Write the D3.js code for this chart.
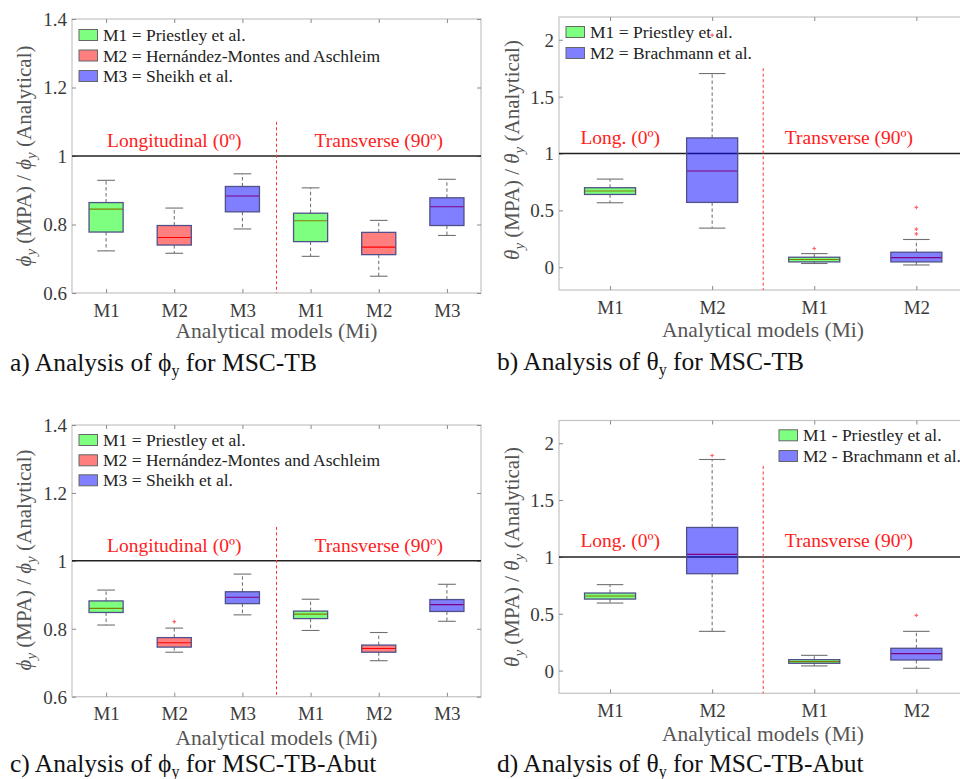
<!DOCTYPE html>
<html><head><meta charset="utf-8">
<script src="https://cdn.jsdelivr.net/npm/d3@7"></script>
</head><body style="margin:0">
<svg id="chart" width="960" height="779"></svg>
<script>
// ---------------- DATA ----------------
const catsPhi = ["M1","M2","M3","M1","M2","M3"];
const catsTheta = ["M1","M2","M1","M2"];
const ticksPhi = [0.6,0.8,1,1.2,1.4];
const ticksTheta = [0,0.5,1,1.5,2];
const modelPhi = [0,1,2,0,1,2];     // colour index per box
const modelTheta = [0,2,0,2];

// each box: [lower whisker, Q1, median, Q3, upper whisker]
const statsA = [
  [0.723,0.778,0.845,0.864,0.929],
  [0.716,0.740,0.762,0.797,0.848],
  [0.787,0.837,0.883,0.911,0.948],
  [0.707,0.750,0.811,0.833,0.907],
  [0.649,0.712,0.734,0.777,0.812],
  [0.768,0.797,0.852,0.878,0.932]
];
const outliersA = [[],[],[],[],[],[]];

const statsB = [
  [0.567,0.640,0.670,0.699,0.775],
  [0.344,0.570,0.846,1.137,1.703],
  [0.033,0.047,0.068,0.088,0.120],
  [0.020,0.047,0.085,0.132,0.244]
];
const outliersB = [[],[2.04],[0.165],[0.293,0.335,0.526]];

const statsC = [
  [0.811,0.848,0.860,0.882,0.914],
  [0.731,0.746,0.759,0.774,0.802],
  [0.841,0.874,0.893,0.909,0.961],
  [0.795,0.830,0.843,0.852,0.887],
  [0.706,0.731,0.742,0.752,0.789],
  [0.822,0.851,0.871,0.886,0.931]
];
const outliersC = [[],[0.821],[],[],[],[]];

const statsD = [
  [0.594,0.629,0.656,0.682,0.756],
  [0.345,0.852,1.022,1.259,1.857],
  [0.041,0.064,0.079,0.096,0.134],
  [0.020,0.093,0.149,0.196,0.345]
];
const outliersD = [[],[1.892],[],[0.486]];

const legendPhi = ["M1 = Priestley et al.","M2 = Hernández-Montes and Aschleim","M3 = Sheikh et al."];
const legendThetaB = ["M1 = Priestley et al.","M2 = Brachmann et al."];
const legendThetaD = ["M1 - Priestley et al.","M2 - Brachmann et al."];
const legendModelsPhi = [0,1,2];
const legendModelsTheta = [0,2];

const regionLongPhi = "Longitudinal (0º)";
const regionLongTheta = "Long. (0º)";
const regionTrans = "Transverse (90º)";
const xTitle = "Analytical models (Mi)";
const captionA = ["a) Analysis of ","ϕ","y"," for MSC-TB"];
const captionB = ["b) Analysis of ","θ","y"," for MSC-TB"];
const captionC = ["c) Analysis of ","ϕ","y"," for MSC-TB-Abut"];
const captionD = ["d) Analysis of ","θ","y"," for MSC-TB-Abut"];

// ---------------- STYLE / LAYOUT ----------------
const FAM = "'Times New Roman'";
const baseColors = ["#00ff00","#ff0000","#0000ff"];
const svg = d3.select("#chart");

const panels = [
  {x0:72, x1:481, y0:19, y1:293, domain:[0.6,1.4], ticks:ticksPhi, cats:catsPhi, models:modelPhi,
   stats:statsA, out:outliersA, div:3.5, divTop:1.1,
   regions:[{x:2,t:regionLongPhi},{x:5,t:regionTrans}], regY:147,
   legend:legendPhi, legModels:legendModelsPhi, legX:79, legY:[35,55.5,76],
   sym:"ϕ", ylx:31, yly:156, tickBase:317, titleBase:338, caption:captionA, capX:10, capBase:371},
  {x0:559, x1:967.4, y0:17, y1:290, domain:[-0.2,2.2], ticks:ticksTheta, cats:catsTheta, models:modelTheta,
   stats:statsB, out:outliersB, div:2.5, divTop:1.75,
   regions:[{x:1.1,t:regionLongTheta},{x:3.34,t:regionTrans}], regY:144,
   legend:legendThetaB, legModels:legendModelsTheta, legX:566, legY:[32,53],
   sym:"θ", ylx:519, yly:150, tickBase:313.5, titleBase:337, caption:captionB, capX:497, capBase:370},
  {x0:72, x1:481, y0:425, y1:696.7, domain:[0.6,1.4], ticks:ticksPhi, cats:catsPhi, models:modelPhi,
   stats:statsC, out:outliersC, div:3.5, divTop:1.1,
   regions:[{x:2,t:regionLongPhi},{x:5,t:regionTrans}], regY:552,
   legend:legendPhi, legModels:legendModelsPhi, legX:79, legY:[440,460.3,480.3],
   sym:"ϕ", ylx:31, yly:560, tickBase:720.5, titleBase:745, caption:captionC, capX:10, capBase:772},
  {x0:559, x1:967.4, y0:420.5, y1:693.3, domain:[-0.2,2.2], ticks:ticksTheta, cats:catsTheta, models:modelTheta,
   stats:statsD, out:outliersD, div:2.5, divTop:1.8,
   regions:[{x:1.1,t:regionLongTheta},{x:3.34,t:regionTrans}], regY:547,
   legend:legendThetaD, legModels:legendModelsTheta, legX:779, legY:[435.3,456],
   sym:"θ", ylx:519, yly:557, tickBase:717.5, titleBase:741, caption:captionD, capX:497, capBase:772}
];

function txt(sel) { return sel.append("text").style("font-family", FAM); }

panels.forEach(p => {
  const g = svg.append("g");
  const n = p.cats.length;
  const x = d3.scaleLinear().domain([0.5, n + 0.5]).range([p.x0, p.x1]);
  const y = d3.scaleLinear().domain(p.domain).range([p.y1, p.y0]);
  const step = x(2) - x(1);
  const boxW = step * 0.5, capW = step * 0.26;

  g.append("rect").attr("x", p.x0).attr("y", p.y0)
    .attr("width", p.x1 - p.x0).attr("height", p.y1 - p.y0)
    .attr("fill", "none").attr("stroke", "#c4c4c4").attr("stroke-width", 1.2);

  const axL = g.append("g").attr("transform", `translate(${p.x0},0)`)
    .call(d3.axisLeft(y).tickValues(p.ticks).tickSize(-4).tickSizeOuter(0).tickPadding(5)
      .tickFormat(d => d3.format("~g")(d)));
  const axR = g.append("g").attr("transform", `translate(${p.x1},0)`)
    .call(d3.axisRight(y).tickValues(p.ticks).tickSize(-4).tickSizeOuter(0).tickFormat(""));
  const axB = g.append("g").attr("transform", `translate(0,${p.y1})`)
    .call(d3.axisBottom(x).tickValues(d3.range(1, n + 1)).tickSize(-4).tickSizeOuter(0)
      .tickFormat(i => p.cats[i - 1]));
  const axT = g.append("g").attr("transform", `translate(0,${p.y0})`)
    .call(d3.axisTop(x).tickValues(d3.range(1, n + 1)).tickSize(-4).tickSizeOuter(0).tickFormat(""));
  [axL, axR, axB, axT].forEach(a => {
    a.attr("font-family", null).attr("font-size", null);
    a.select(".domain").remove();
    a.selectAll(".tick line").attr("stroke", "#8a8a8a");
  });
  axL.selectAll(".tick text").style("font-family", FAM).attr("font-size", 19).attr("fill", "#3a3a3a").attr("dy", "0.34em");
  axB.selectAll(".tick text").style("font-family", FAM).attr("font-size", 19).attr("fill", "#3a3a3a")
    .attr("y", p.tickBase - p.y1).attr("dy", 0);

  g.append("line").attr("x1", p.x0).attr("x2", p.x1).attr("y1", y(1)).attr("y2", y(1))
    .attr("stroke", "#222").attr("stroke-width", 1.5);

  g.append("line").attr("x1", x(p.div)).attr("x2", x(p.div)).attr("y1", y(p.divTop)).attr("y2", p.y1)
    .attr("stroke", "#ff3333").attr("stroke-width", 1).attr("stroke-dasharray", "3,2.5");

  p.stats.forEach((s, i) => {
    const cx = x(i + 1);
    const [lo, q1, med, q3, hi] = s;
    g.append("line").attr("x1", cx).attr("x2", cx).attr("y1", y(q3)).attr("y2", y(hi))
      .attr("stroke", "#6a6a6a").attr("stroke-width", 1).attr("stroke-dasharray", "3.5,2.5");
    g.append("line").attr("x1", cx).attr("x2", cx).attr("y1", y(q1)).attr("y2", y(lo))
      .attr("stroke", "#6a6a6a").attr("stroke-width", 1).attr("stroke-dasharray", "3.5,2.5");
    [lo, hi].forEach(v => g.append("line").attr("x1", cx - capW / 2).attr("x2", cx + capW / 2)
      .attr("y1", y(v)).attr("y2", y(v)).attr("stroke", "#707070").attr("stroke-width", 1.1));
    g.append("line").attr("x1", cx - boxW / 2).attr("x2", cx + boxW / 2).attr("y1", y(med)).attr("y2", y(med))
      .attr("stroke", "#ff0000").attr("stroke-width", 1.1);
    g.append("rect").attr("x", cx - boxW / 2).attr("y", y(q3)).attr("width", boxW).attr("height", y(q1) - y(q3))
      .attr("fill", baseColors[p.models[i]]).attr("fill-opacity", 0.5)
      .attr("stroke", "#50508a").attr("stroke-width", 1.3);
    p.out[i].forEach(v => {
      g.append("path").attr("d", `M${cx - 1.8},${y(v)}h3.6M${cx},${y(v) - 1.8}v3.6`)
        .attr("stroke", "#ff4040").attr("stroke-width", 1.2).attr("opacity", 0.8);
    });
  });

  p.regions.forEach(r => {
    txt(g).attr("x", x(r.x)).attr("y", p.regY).attr("text-anchor", "middle")
      .attr("font-size", 19.5).attr("fill", "#ff2020").text(r.t);
  });

  p.legend.forEach((t, i) => {
    const cy = p.legY[i];
    g.append("rect").attr("x", p.legX).attr("y", cy - 5.5).attr("width", 18.5).attr("height", 11)
      .attr("fill", baseColors[p.legModels[i]]).attr("fill-opacity", 0.5)
      .attr("stroke", "#666").attr("stroke-width", 1);
    txt(g).attr("x", p.legX + 24).attr("y", cy + 6).attr("font-size", 17.5)
      .attr("fill", "#222").text(t);
  });

  const yt = txt(g).attr("transform", `translate(${p.ylx},${p.yly}) rotate(-90)`)
    .attr("text-anchor", "middle").attr("font-size", 21).attr("fill", "#555");
  yt.append("tspan").attr("font-style", "italic").text(p.sym);
  yt.append("tspan").attr("font-style", "italic").attr("font-size", 15).attr("dy", 5).text("y");
  yt.append("tspan").attr("dy", -5).text(" (MPA) / ");
  yt.append("tspan").attr("font-style", "italic").text(p.sym);
  yt.append("tspan").attr("font-style", "italic").attr("font-size", 15).attr("dy", 5).text("y");
  yt.append("tspan").attr("dy", -5).text(" (Analytical)");

  txt(g).attr("x", (p.x0 + Math.min(p.x1, 967)) / 2).attr("y", p.titleBase)
    .attr("text-anchor", "middle").attr("font-size", 21.5).attr("fill", "#555").text(xTitle);

  const c = txt(g).attr("x", p.capX).attr("y", p.capBase).attr("font-size", 25.5).attr("fill", "#111");
  c.append("tspan").text(p.caption[0]);
  c.append("tspan").text(p.caption[1]);
  c.append("tspan").attr("font-size", 16).attr("dy", 5).text(p.caption[2]);
  c.append("tspan").attr("dy", -5).text(p.caption[3]);
});
</script>
</body></html>
